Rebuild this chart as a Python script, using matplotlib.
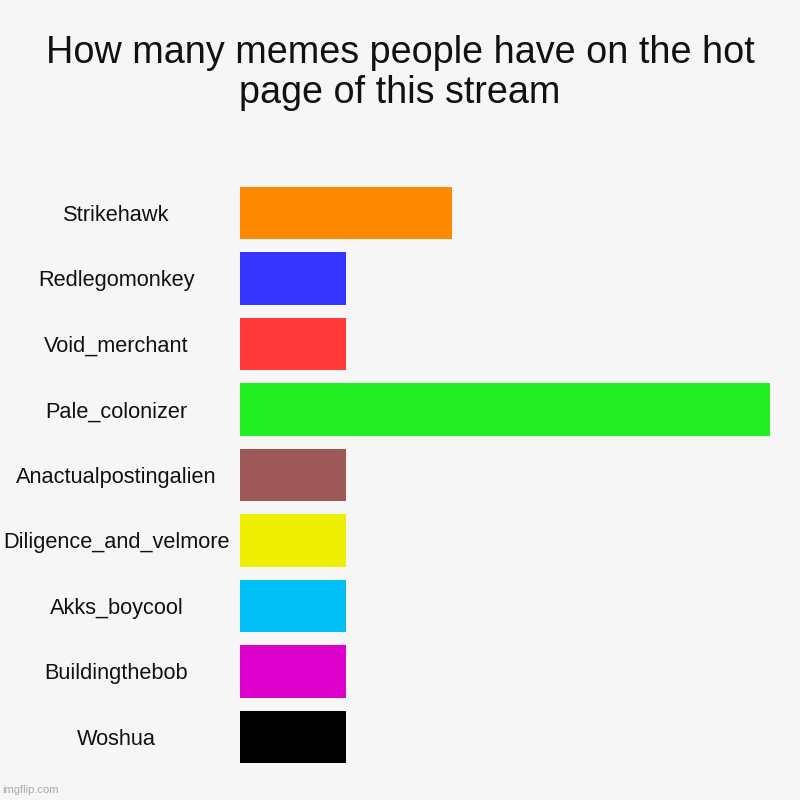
import matplotlib.pyplot as plt

names = ["Strikehawk", "Redlegomonkey", "Void_merchant", "Pale_colonizer",
         "Anactualpostingalien", "Diligence_and_velmore", "Akks_boycool",
         "Buildingthebob", "Woshua"]
memes = [2, 1, 1, 5, 1, 1, 1, 1, 1]
colors = ["#ff8a00", "#3535ff", "#ff3838", "#22ef22", "#9e5858",
          "#eeee00", "#00c0f5", "#dd00cc", "#000000"]

plt.rcParams['font.family'] = ['Liberation Sans', 'DejaVu Sans']
bg = "#f6f6f6"

fig = plt.figure(figsize=(8, 8), dpi=100, facecolor=bg)
ax = fig.add_axes([0.3, 0.0378, 0.6625, 0.737])
ax.set_facecolor(bg)

pos = list(range(len(names)))
ax.barh(pos, memes, height=0.8, color=colors)
ax.set_xlim(0, 5)
ax.set_ylim(len(names) - 0.5, -0.5)
ax.set_yticks(pos)
ax.set_yticklabels(names, ha='center', fontsize=15.7, color='#111111')
ax.tick_params(axis='y', length=0, pad=89)
ax.set_xticks([])
for s in ax.spines.values():
    s.set_visible(False)

fig.text(0.5, 0.909, "How many memes people have on the hot\npage of this stream",
         ha='center', va='center', fontsize=27.2, linespacing=1.13, color='#111111')
fig.text(0.003, 0.006, "imgflip.com", fontsize=8, color='#aaaaaa',
         ha='left', va='bottom')

fig.savefig("out.png", dpi=100, facecolor=bg)
